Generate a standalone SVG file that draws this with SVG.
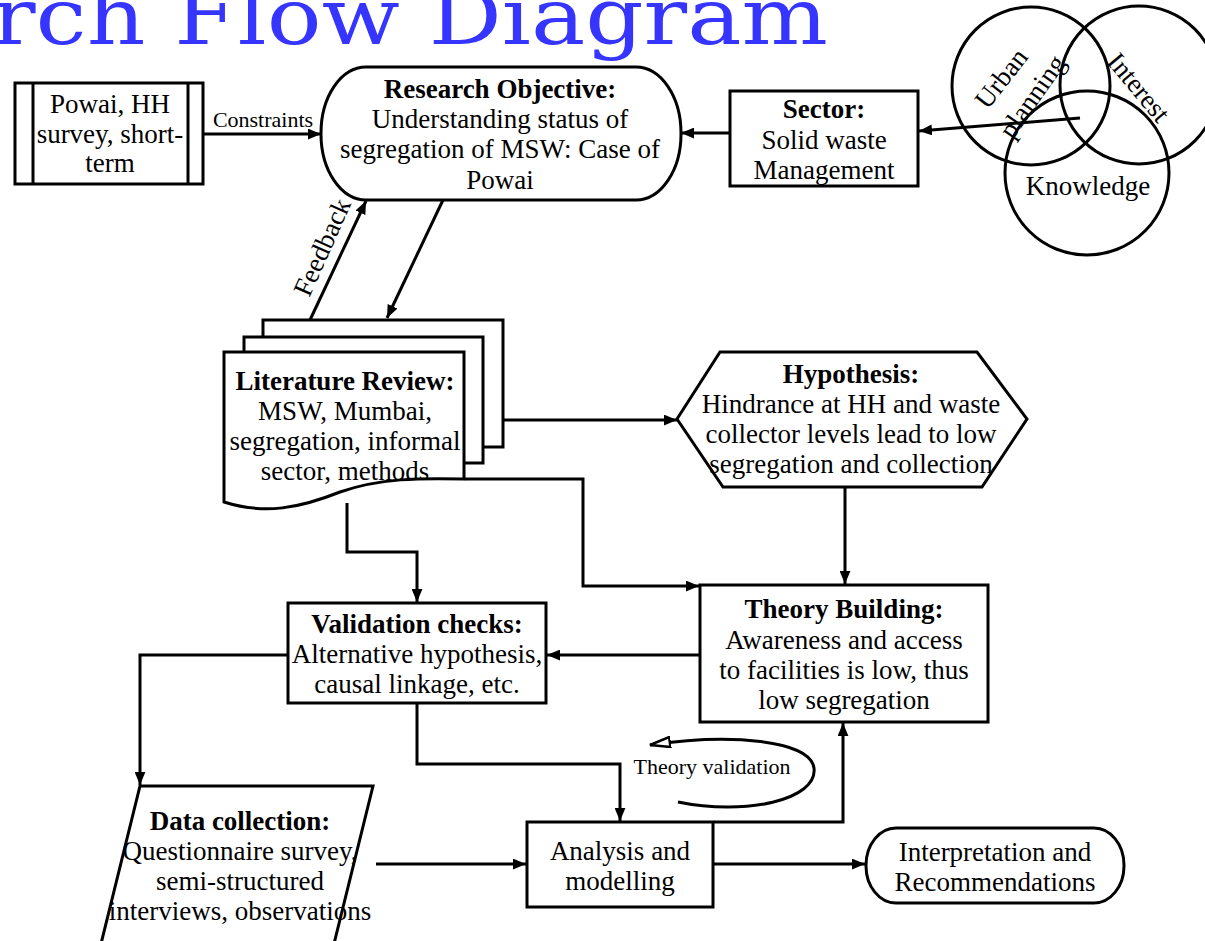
<svg xmlns="http://www.w3.org/2000/svg" width="1205" height="941" viewBox="0 0 1205 941">
<defs>
<style>
.s{fill:#fff;stroke:#000;stroke-width:3}
.n{fill:none;stroke:#000;stroke-width:3}
.t{font-family:"Liberation Serif","Times New Roman",serif;font-size:27px;fill:#000;text-anchor:middle}
.b{font-weight:bold}
.sm{font-size:22px}
.c{fill:none;stroke:#000;stroke-width:3}
</style>
<marker id="ah" viewBox="0 0 12 10" refX="12" refY="5" markerWidth="13" markerHeight="11" markerUnits="userSpaceOnUse" orient="auto">
<path d="M0,0 L12,5 L0,10 z" fill="#000"/>
</marker>
<marker id="oh" viewBox="0 0 22 12" refX="21" refY="6" markerWidth="22" markerHeight="12" markerUnits="userSpaceOnUse" orient="auto">
<path d="M1,1 L21,6 L1,11 z" fill="#fff" stroke="#000" stroke-width="2.5"/>
</marker>
</defs>
<rect width="1205" height="941" fill="#fff"/>

<g id="title">
<text x="-8" y="44" font-family="'DejaVu Serif','Liberation Serif',serif" font-size="78" fill="#3535ff" textLength="836" lengthAdjust="spacingAndGlyphs">rch Flow Diagram</text>
</g>

<g id="connectors">
<line class="c" x1="203" y1="134" x2="321" y2="134" marker-end="url(#ah)"/>
<line class="c" x1="730" y1="133" x2="681" y2="133" marker-end="url(#ah)"/>
<line class="c" x1="1080" y1="118" x2="919" y2="131" marker-end="url(#ah)"/>
<line class="c" x1="310" y1="320" x2="366" y2="201" marker-end="url(#ah)"/>
<line class="c" x1="443" y1="200" x2="387" y2="318" marker-end="url(#ah)"/>
<line class="c" x1="503" y1="420" x2="677" y2="420" marker-end="url(#ah)"/>
<path class="c" d="M465,479 H583 V586 H699" marker-end="url(#ah)"/>
<path class="c" d="M347,503 V552 H417 V602" marker-end="url(#ah)"/>
<line class="c" x1="845" y1="487" x2="845" y2="584" marker-end="url(#ah)"/>
<line class="c" x1="700" y1="655" x2="547" y2="655" marker-end="url(#ah)"/>
<path class="c" d="M288,655 H140 V785" marker-end="url(#ah)"/>
<path class="c" d="M417,703 V764 H620 V821" marker-end="url(#ah)"/>
<path class="c" d="M714,822 H843 V723" marker-end="url(#ah)"/>
<line class="c" x1="376" y1="864" x2="526" y2="864" marker-end="url(#ah)"/>
<line class="c" x1="713" y1="864" x2="865" y2="864" marker-end="url(#ah)"/>
<path class="c" d="M678,802 C745,816 818,800 814,768 C810,740 730,733 650,745" marker-end="url(#oh)"/>
<text class="t" font-size="21" transform="translate(324,248) rotate(-66)" y="7">Feedback</text>
<text class="t sm" x="263" y="127">Constraints</text>
<text class="t sm" x="712" y="774">Theory validation</text>
</g>

<g id="powai">
<rect class="s" x="15" y="83" width="188" height="101"/>
<line class="n" x1="33" y1="83" x2="33" y2="184"/>
<line class="n" x1="188" y1="83" x2="188" y2="184"/>
<text class="t" x="110" y="113">Powai, HH</text>
<text class="t" x="110" y="143">survey, short-</text>
<text class="t" x="110" y="172">term</text>
</g>

<g id="objective">
<rect class="s" x="321" y="67" width="360" height="133" rx="45" ry="66"/>
<text class="t b" x="500" y="98">Research Objective:</text>
<text class="t" x="500" y="128">Understanding status of</text>
<text class="t" x="500" y="158">segregation of MSW: Case of</text>
<text class="t" x="500" y="189">Powai</text>
</g>

<g id="sector">
<rect class="s" x="730" y="91" width="188" height="95"/>
<text class="t b" x="824" y="118">Sector:</text>
<text class="t" x="824" y="149">Solid waste</text>
<text class="t" x="824" y="179">Management</text>
</g>

<g id="venn">
<circle class="n" cx="1031" cy="86" r="79"/>
<circle class="n" cx="1139" cy="85" r="79"/>
<circle class="n" cx="1087" cy="173" r="82"/>
<text class="t" font-size="24" transform="translate(1002,79) rotate(-52)" y="8">Urban</text>
<text class="t" font-size="24" transform="translate(1033,97) rotate(-55)" y="8">planning</text>
<text class="t" font-size="23" transform="translate(1138,88) rotate(50)" y="8">Interest</text>
<text class="t" x="1088" y="195" font-size="22">Knowledge</text>
</g>

<g id="literature">
<rect class="s" x="263" y="320" width="240" height="127"/>
<rect class="s" x="244" y="337" width="239" height="126"/>
<path class="s" d="M224,352 H464 V479 C420,478 380,478 340,492 C300,508 265,515 224,502 Z"/>
<text class="t b" x="345" y="390">Literature Review:</text>
<text class="t" x="345" y="420">MSW, Mumbai,</text>
<text class="t" x="345" y="450">segregation, informal</text>
<text class="t" x="345" y="480">sector, methods</text>
</g>

<g id="hypothesis">
<polygon class="s" points="677,419 720,352 977,352 1027,419 982,487 723,487"/>
<text class="t b" x="851" y="383">Hypothesis:</text>
<text class="t" x="851" y="413">Hindrance at HH and waste</text>
<text class="t" x="851" y="443">collector levels lead to low</text>
<text class="t" x="851" y="473">segregation and collection</text>
</g>

<g id="validation">
<rect class="s" x="288" y="603" width="258" height="100"/>
<text class="t b" x="417" y="633">Validation checks:</text>
<text class="t" x="417" y="663">Alternative hypothesis,</text>
<text class="t" x="417" y="693">causal linkage, etc.</text>
</g>

<g id="theory">
<rect class="s" x="700" y="585" width="288" height="137"/>
<text class="t b" x="844" y="618">Theory Building:</text>
<text class="t" x="844" y="649">Awareness and access</text>
<text class="t" x="844" y="679">to facilities is low, thus</text>
<text class="t" x="844" y="709">low segregation</text>
</g>

<g id="datacollection">
<polygon class="s" points="140,786 373,786 330,960 97,960"/>
<text class="t b" x="240" y="830">Data collection:</text>
<text class="t" x="240" y="860">Questionnaire survey,</text>
<text class="t" x="240" y="890">semi-structured</text>
<text class="t" x="240" y="920">interviews, observations</text>
</g>

<g id="analysis">
<rect class="s" x="527" y="822" width="186" height="85"/>
<text class="t" x="620" y="860">Analysis and</text>
<text class="t" x="620" y="890">modelling</text>
</g>

<g id="interpretation">
<rect class="s" x="866" y="828" width="258" height="75" rx="30" ry="37"/>
<text class="t" x="995" y="861">Interpretation and</text>
<text class="t" x="995" y="891">Recommendations</text>
</g>
</svg>
